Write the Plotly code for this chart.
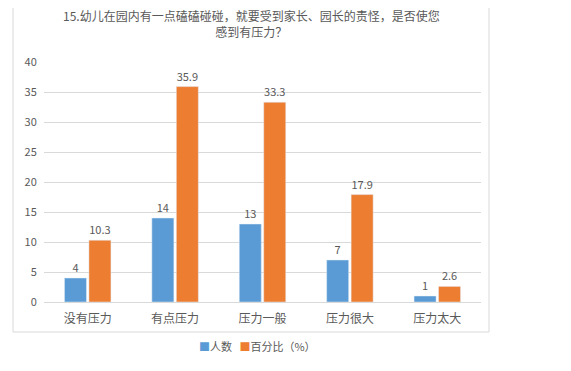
import plotly.graph_objects as go

categories = ["没有压力", "有点压力", "压力一般", "压力很大", "压力太大"]
counts = [4, 14, 13, 7, 1]
percents = [10.3, 35.9, 33.3, 17.9, 2.6]
series_names = ["人数", "百分比（%）"]
series_colors = ["#5B9BD5", "#ED7D31"]
y_ticks = [0, 5, 10, 15, 20, 25, 30, 35, 40]

font = "Noto Sans CJK SC"
gray = "#595959"

fig = go.Figure()
fig.add_trace(go.Bar(x=categories, y=counts, name=series_names[0],
                     marker_color=series_colors[0], text=[str(v) for v in counts],
                     textposition="outside", textfont=dict(color=gray, size=11),
                     cliponaxis=False))
fig.add_trace(go.Bar(x=categories, y=percents, name=series_names[1],
                     marker_color=series_colors[1], text=[str(v) for v in percents],
                     textposition="outside", textfont=dict(color=gray, size=11),
                     cliponaxis=False))

# page body has an 8px margin; work in reference pixel coords minus 8
OFF = 8
W, H = 555, 355
L, T = 44 - OFF, 62 - OFF
R = W - (481 - OFF)
B = H - (302 - OFF)
pw, ph = W - L - R, H - T - B

def px_x(p):
    return (p - OFF - L) / pw

def px_y(p):
    return (H - B - (p - OFF)) / ph

legend_text = (f"<span style='color:{series_colors[0]}'>■</span>{series_names[0]}"
               f"   <span style='color:{series_colors[1]}'>■</span>{series_names[1]}")

fig.update_layout(
    width=W, height=H,
    margin=dict(l=L, r=R, t=T, b=B, autoexpand=False),
    paper_bgcolor="white", plot_bgcolor="white",
    font=dict(family=font, color=gray, size=11),
    barmode="group", bargap=0.44, bargroupgap=0.1,
    showlegend=False,
    yaxis=dict(range=[0, 40], tickvals=y_ticks, showgrid=True, gridcolor="#D9D9D9",
               zeroline=False, tickfont=dict(size=11, color=gray), ticks="outside",
               ticklen=4, tickcolor="rgba(0,0,0,0)", showline=False, automargin=False),
    xaxis=dict(showline=True, linecolor="#D9D9D9", tickfont=dict(size=12, color=gray),
               ticks="outside", ticklen=6, tickcolor="rgba(0,0,0,0)", automargin=False),
    shapes=[dict(type="rect", xref="paper", yref="paper",
                 x0=px_x(13), x1=px_x(489), y0=px_y(332), y1=px_y(3),
                 line=dict(color="#D9D9D9", width=1), fillcolor="rgba(0,0,0,0)")],
    annotations=[
        dict(text="15.幼儿在园内有一点磕磕碰碰，就要受到家长、园长的责怪，是否使您<br>感到有压力？",
             xref="paper", yref="paper", x=px_x(251), y=px_y(24),
             xanchor="center", yanchor="middle", showarrow=False,
             font=dict(size=12, color=gray), align="center"),
        dict(text=legend_text, xref="paper", yref="paper", x=px_x(257), y=px_y(346),
             xanchor="center", yanchor="middle", showarrow=False,
             font=dict(size=11, color=gray)),
    ],
)

fig.write_html("out.html")
